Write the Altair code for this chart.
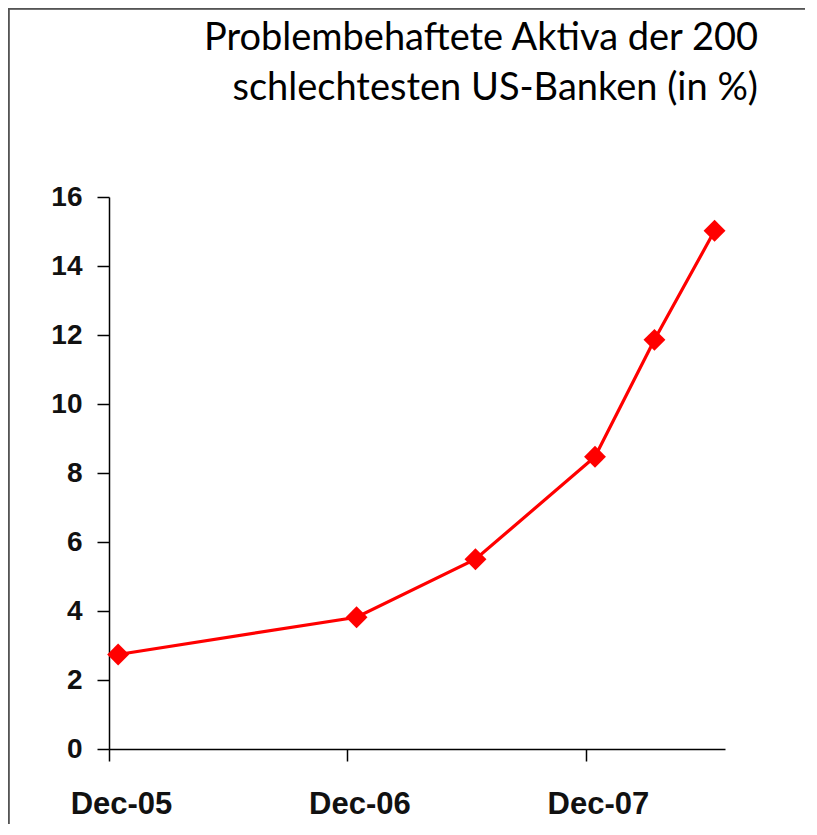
import altair as alt
import pandas as pd

dates = ["2005-12-15", "2006-12-15", "2007-06-15", "2007-12-15", "2008-03-15", "2008-06-15"]
values = [2.74, 3.82, 5.50, 8.47, 11.86, 15.02]
title_lines = ["Problembehaftete Aktiva der 200", "schlechtesten US-Banken (in %)"]
y_ticks = [0, 2, 4, 6, 8, 10, 12, 14, 16]

df = pd.DataFrame({"date": dates, "value": values})

x_enc = alt.X(
    "date:T",
    scale=alt.Scale(
        type="utc",
        domain=[alt.DateTime(year=2005, month=12, date=1, utc=True),
                alt.DateTime(year=2008, month=7, date=1, utc=True)],
    ),
    axis=alt.Axis(
        title=None,
        values=[alt.DateTime(year=2005, month=12, date=1, utc=True),
                alt.DateTime(year=2006, month=12, date=1, utc=True),
                alt.DateTime(year=2007, month=12, date=1, utc=True)],
        labelExpr="utcFormat(datum.value, '%b-%y')",
        grid=False,
        domainColor="#000000",
        domainWidth=1.5,
        tickColor="#000000",
        tickWidth=1.5,
        tickSize=12,
        labelFont="Liberation Sans",
        labelFontWeight="bold",
        labelFontSize=31,
        labelColor="#111111",
        labelPadding=28,
        labelOffset=12,
        labelAlign="center",
        labelBaseline="top",
        labelFlush=False,
        labelOverlap=False,
    ),
)
y_enc = alt.Y(
    "value:Q",
    scale=alt.Scale(domain=[0, 16], nice=False, zero=True),
    axis=alt.Axis(
        title=None,
        values=y_ticks,
        grid=False,
        domainColor="#000000",
        domainWidth=1.5,
        tickColor="#000000",
        tickWidth=1.5,
        tickSize=12,
        labelFont="Liberation Sans",
        labelFontWeight="bold",
        labelFontSize=28,
        labelColor="#111111",
        labelPadding=15,
    ),
)

line = alt.Chart(df).mark_line(color="#FF0000", strokeWidth=3.2).encode(x=x_enc, y=y_enc)
pts = alt.Chart(df).mark_point(shape="diamond", filled=True, color="#FF0000", size=480, opacity=1).encode(
    x="date:T", y="value:Q"
)

border_left = alt.Chart(df).mark_rule(color="#555555", strokeWidth=1.5).encode(
    x=alt.value(-100.5), y=alt.value(-188.5), y2=alt.value(640)
)
border_top = alt.Chart(df).mark_rule(color="#555555", strokeWidth=1.5).encode(
    x=alt.value(-100.5), x2=alt.value(720), y=alt.value(-188.5)
)

chart = alt.layer(line, pts, border_left, border_top).properties(
    width=616,
    height=552,
    background="white",
    padding={"left": 101, "top": 189, "right": 80, "bottom": 75},
    autosize=alt.AutoSizeParams(type="none"),
    title=alt.TitleParams(
        text=title_lines,
        anchor="end",
        frame="group",
        orient="top",
        font="Lato",
        fontSize=38,
        fontWeight="normal",
        color="#000000",
        lineHeight=50,
        baseline="top",
        dx=33,
        offset=-100,
    ),
).configure_view(strokeWidth=0, stroke="transparent")

chart.save("out.html", embed_options={"renderer": "svg", "actions": False})
